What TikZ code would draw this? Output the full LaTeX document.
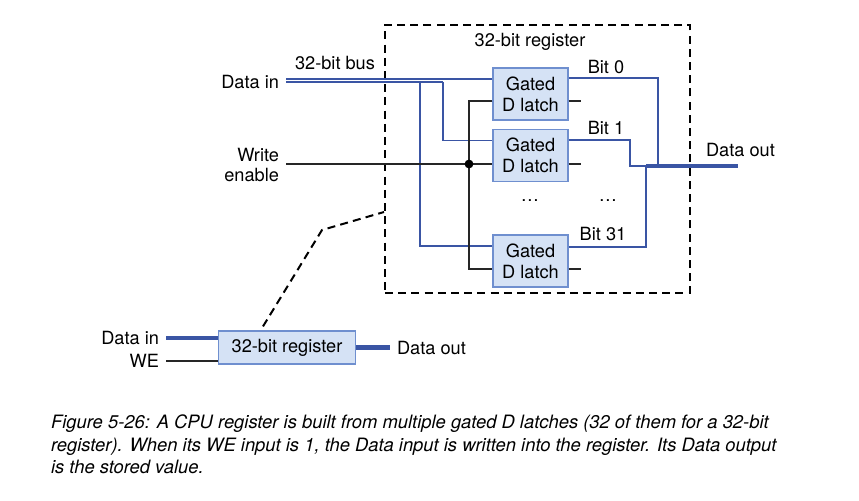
\documentclass[tikz,border=0pt]{standalone}
\usepackage{fontspec}
\setmainfont{TeX Gyre Heros}
\usetikzlibrary{calc}
\definecolor{wireblue}{HTML}{3A55A4}
\definecolor{boxline}{HTML}{6F8FCF}
\definecolor{boxfill}{HTML}{D5E2F5}

\begin{document}
\begin{tikzpicture}[x=0.5pt,y=-0.5pt,font=\fontsize{9.1}{10.4}\selectfont,
    latch/.style={draw=boxline,fill=boxfill,line width=0.6pt,minimum width=37.5pt,minimum height=26pt,align=center,inner sep=0pt},
    sig/.style={wireblue,line width=0.8pt},
    ctl/.style={black!85,line width=0.8pt},
    busline/.style={wireblue,line width=2.3pt},
    zoomline/.style={line width=1pt,dash pattern=on 4pt off 2.6pt}]
    \useasboundingbox (0,0) rectangle (859,500);

    % the register seen from inside
    \node[draw,zoomline,minimum width=152.5pt,minimum height=134pt] (REG) at (537.5,159) {};
    \node (RT) at (530,42) {32-bit register};

    \node[latch] (L0) at (530.5,94) {Gated\\D latch};
    \node[latch] (L1) at (530.5,155.5) {Gated\\D latch};
    \node[latch] (L31) at (530.5,261) {Gated\\D latch};
    \node (D1) at (530,201) {\dots};
    \node (D2) at (608,201) {\dots};

    \coordinate (d0) at ($(L0.west)+(0,-15)$);
    \coordinate (d1) at ($(L1.west)+(0,-15)$);
    \coordinate (d31) at ($(L31.west)+(0,-15)$);
    \coordinate (e0) at ($(L0.west)+(0,7)$);
    \coordinate (e1) at ($(L1.west)+(0,8.5)$);
    \coordinate (e31) at ($(L31.west)+(0,8)$);
    \coordinate (q0) at ($(L0.east)+(0,-16)$);
    \coordinate (q1) at ($(L1.east)+(0,-15.5)$);
    \coordinate (q31) at ($(L31.east)+(0,-14)$);
    \coordinate (n0) at ($(L0.east)+(0,7)$);
    \coordinate (n1) at ($(L1.east)+(0,8.5)$);
    \coordinate (n31) at ($(L31.east)+(0,8)$);

    % inputs
    \node[anchor=east] (DI) at (286,82) {Data in};
    \node (BUS) at (335,63) {32-bit bus};
    \node[anchor=east,align=right] (WE) at (286,165) {Write\\enable};
    \coordinate (b1) at (443,82);
    \coordinate (b31) at (420,82);
    \coordinate (j) at (469,164);

    \draw[busline] (DI.east) -- (b1);
    \draw[white,line width=0.35pt] ($(DI.east)+(0,-1.3)$) -- ($(b1)+(0,-1.3)$);
    \draw[white,line width=0.35pt] ($(DI.east)+(0,1.3)$) -- ($(b1)+(0,1.3)$);
    \draw[sig] (DI.east |- d0) -- (d0);
    \draw[sig] (b1) |- (d1);
    \draw[sig] (b31) |- (d31);

    \draw[ctl] (WE.east |- e1) -- (e1);
    \draw[ctl] (e0) -| (j) |- (e31);
    \fill (j) circle (2.2pt);

    % outputs
    \coordinate (ob) at (646,166);
    \coordinate (o0) at (658,166);
    \coordinate (o1) at (630,166);
    \node[anchor=west] (DO) at (699,150) {Data out};
    \node (BT0) at (606,67) {Bit 0};
    \node (BT1) at (606,128) {Bit 1};
    \node (BT31) at (603,234) {Bit 31};

    \draw[sig] (q0) -| (o0);
    \draw[sig] (q1) -| (o1) -- (ob);
    \draw[sig] (q31) -| (ob);
    \draw[busline] (ob) -- (738,166);
    \draw[ctl] (n0) -- ++(12,0);
    \draw[ctl] (n1) -- ++(12,0);
    \draw[ctl] (n31) -- ++(12,0);

    % the register as one block
    \node[latch,minimum width=68.5pt,minimum height=16.5pt] (R) at (287,347.5) {32-bit register};
    \node[anchor=east] (DI2) at (166,338) {Data in};
    \node[anchor=east] (WE2) at (166,361) {WE};
    \node[anchor=west] (DO2) at (390,348) {Data out};
    \draw[busline] (DI2.east) -- (DI2.east -| R.west);
    \draw[ctl] (WE2.east) -- (WE2.east -| R.west);
    \draw[busline] (R.east) -- (R.east -| DO2.west);

    \coordinate (z1) at (322,230);
    \coordinate (z2) at (384,212);
    \draw[zoomline] ($(R.north)+(-24,-4)$) -- (z1) -- (z2);

    \node[anchor=north west,align=left,font=\fontsize{9.2}{11.25}\selectfont\itshape] (CAP) at (44,408)
      {Figure 5-26: A CPU register is built from multiple gated D latches (32 of them for a 32-bit\\
       register). When its WE input is 1, the Data input is written into the register. Its Data output\\
       is the stored value.};
\end{tikzpicture}
\end{document}
